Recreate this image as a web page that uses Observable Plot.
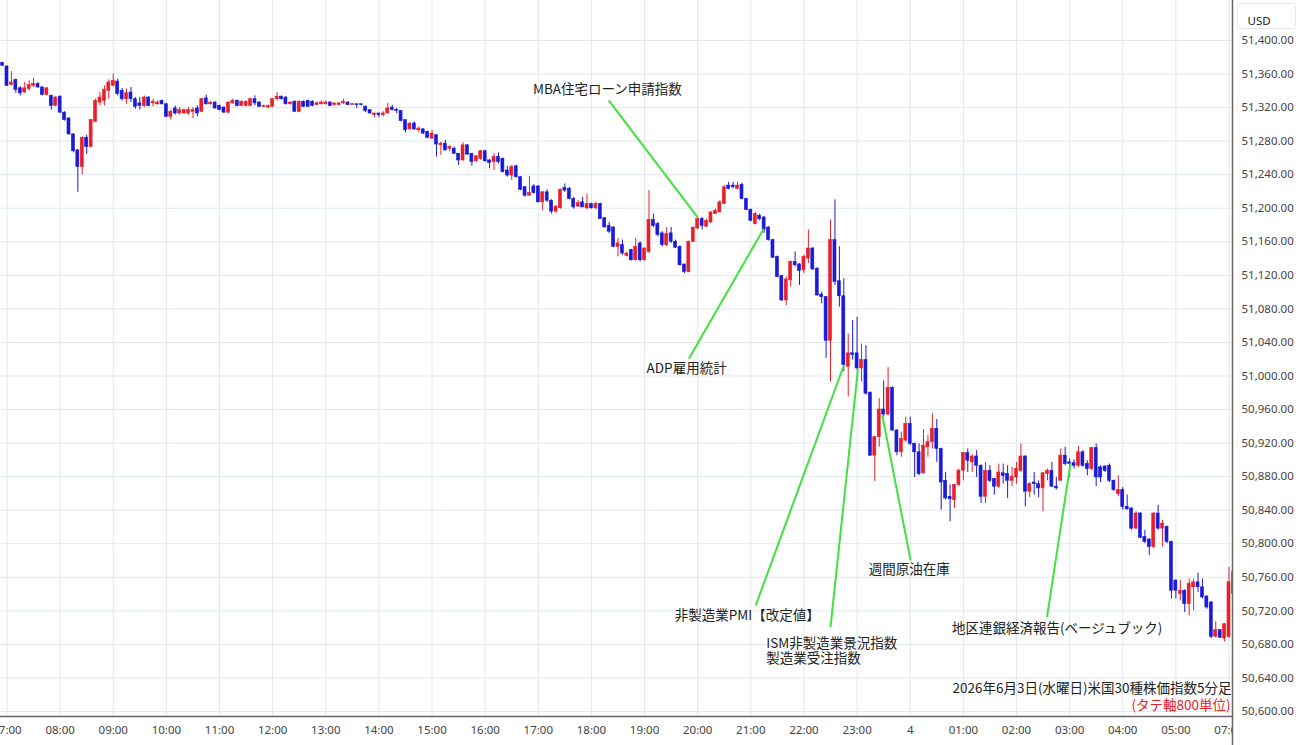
<!DOCTYPE html>
<html><head><meta charset="utf-8">
<script src="https://cdn.jsdelivr.net/npm/d3@7"></script>
<script src="https://cdn.jsdelivr.net/npm/@observablehq/plot@0.6"></script>
<style>
html,body{margin:0;padding:0;background:#fff;overflow:hidden;}
#chart svg{display:block;}
</style>
</head><body><div id="chart"></div>
<script>
// ---- data: 5-minute bars, index 0 = 07:00 (index -1 is the bar before) ----
const firstIndex = -1;
const open = [51373,51369,51347,51353,51343,51338,51342,51346,51348,51344,51335,51334,51322,51333,51314,51307,51288,51269,51249,51284,51273,51303,51326,51328,51340,51346,51351,51340,51330,51338,51330,51325,51322,51332,51325,51324,51328,51324,51309,51319,51313,51313,51313,51315,51319,51315,51331,51324,51326,51322,51320,51314,51325,51328,51322,51322,51322,51330,51326,51321,51320,51321,51330,51333,51332,51324,51327,51315,51327,51328,51327,51323,51324,51324,51326,
51323,51323,51325,51326,51323,51324,51324,51321,51317,51311,51313,51311,51313,51320,51317,51316,51305,51294,51301,51293,51294,51291,51283,51287,51275,51277,51271,51271,51265,51257,51275,51265,51256,51259,51268,51257,51255,51261,51259,51245,51239,51250,51237,51225,51215,51226,51226,51207,51219,51209,51196,51200,51224,51223,51211,51202,51207,51200,51205,51200,51205,51188,51179,51177,51154,51156,51143,51150,51138,51158,51138,
51148,51186,51181,51170,51156,51170,51160,51154,51133,51124,51160,51176,51187,51178,51183,51193,51195,51205,51227,51227,51223,51228,51211,51198,51181,51191,51189,51177,51162,51142,
51119,51090,51114,51136,51133,51126,51140,51152,51128,51097,51094,51042,51162,51113,51095,51011,51027,51027,51009,51019,50980,50905,50927,50960,50954,50986,50935,50909,50923,50943,50919,50909,
50884,50915,50921,50937,50913,50875,50856,50852,50870,50887,50908,50897,50904,50893,50856,50887,50877,50868,50884,50883,50875,50879,50887,50904,50862,50873,50871,50866,50883,50887,50868,50875,50905,50897,50896,50893,50909,50895,50889,50914,50891,50892,50893,50875,50859,50864,50844,
50842,50818,50836,50808,50805,50796,50836,50818,50820,50802,50756,50740,50744,50728,50748,50754,50748,50737,50730,50689,50697,50687,50689,50740];
const high = [51374,51370,51363,51354,51345,51350,51352,51355,51350,51345,51344,51335,51333,51334,51315,51308,51289,51270,51285,51287,51306,51330,51338,51346,51353,51360,51354,51343,51342,51344,51332,51332,51334,51333,51330,51328,51329,51325,51317,51322,51320,51318,51320,51320,51322,51331,51335,51327,51327,51323,51321,51327,51330,51329,51328,51328,51331,51334,51327,51323,51323,51331,51338,51334,51333,51327,51328,51328,51328,51329,51328,51327,51328,51328,51327,
51325,51326,51330,51327,51325,51324,51324,51322,51317,51313,51313,51315,51325,51323,51319,51316,51305,51302,51303,51297,51295,51292,51293,51288,51279,51281,51275,51273,51265,51278,51276,51265,51263,51269,51269,51258,51265,51266,51260,51250,51251,51251,51238,51226,51238,51228,51227,51220,51222,51210,51203,51223,51229,51225,51213,51209,51213,51217,51206,51207,51206,51189,51183,51178,51164,51162,51148,51151,51164,51160,51153,
51221,51193,51183,51172,51177,51177,51162,51155,51133,51161,51177,51189,51189,51187,51196,51199,51209,51227,51231,51231,51231,51230,51212,51199,51195,51193,51190,51178,51163,51143,
51120,51118,51137,51148,51134,51144,51174,51153,51129,51100,51095,51186,51210,51154,51116,51050,51066,51070,51038,51036,50981,50928,50973,50994,51010,50987,50936,50933,50951,50951,50920,50919,
50936,50929,50955,50948,50914,50885,50870,50871,50889,50909,50913,50906,50911,50894,50897,50893,50878,50895,50895,50893,50891,50897,50919,50905,50873,50885,50875,50885,50889,50897,50879,50913,50915,50901,50900,50916,50911,50899,50915,50919,50893,50893,50895,50876,50881,50867,50858,
50843,50838,50837,50816,50806,50837,50846,50828,50821,50803,50757,50756,50745,50758,50758,50765,50758,50738,50731,50707,50697,50705,50772,50768];
const low = [51369,51345,51346,51337,51334,51337,51340,51344,51343,51334,51334,51317,51321,51313,51304,51287,51266,51219,51240,51264,51272,51302,51322,51322,51330,51345,51334,51328,51324,51326,51318,51317,51320,51321,51321,51323,51323,51308,51305,51311,51311,51312,51311,51307,51309,51314,51323,51323,51318,51316,51313,51313,51324,51321,51321,51321,51321,51322,51320,51320,51319,51320,51328,51329,51323,51323,51314,51314,51320,51320,51321,51322,51323,51323,51321,
51322,51322,51324,51322,51323,51319,51322,51314,51312,51308,51308,51309,51312,51316,51313,51303,51290,51293,51293,51290,51288,51283,51282,51261,51263,51268,51267,51264,51251,51256,51263,51250,51255,51257,51255,51247,51245,51253,51242,51237,51233,51236,51221,51213,51214,51217,51207,51197,51207,51193,51194,51199,51219,51210,51199,51201,51201,51198,51199,51198,51187,51177,51170,51153,51142,51144,51142,51137,51137,51136,51137,
51146,51177,51166,51154,51154,51158,51152,51131,51122,51123,51159,51174,51174,51177,51182,51193,51195,51205,51222,51223,51222,51210,51197,51184,51180,51185,51170,51161,51140,51117,
51089,51084,51106,51130,51108,51122,51134,51126,51095,51086,51021,50993,51108,51082,51005,50975,51019,51007,50993,50977,50904,50874,50915,50951,50953,50934,50905,50903,50921,50917,50879,50881,
50883,50903,50913,50897,50840,50852,50826,50842,50868,50875,50885,50885,50879,50848,50848,50873,50858,50866,50871,50854,50868,50871,50885,50844,50855,50858,50855,50838,50875,50867,50864,50875,50893,50879,50889,50891,50891,50881,50887,50868,50873,50885,50873,50862,50856,50840,50840,
50816,50817,50806,50800,50786,50794,50816,50796,50800,50734,50734,50732,50718,50714,50720,50742,50734,50722,50687,50688,50687,50683,50687,50738];
const close = [51370,51346,51350,51341,51337,51343,51347,51348,51344,51335,51343,51322,51332,51314,51305,51288,51268,51249,51284,51273,51305,51328,51332,51341,51350,51352,51336,51330,51337,51330,51321,51322,51332,51322,51327,51326,51324,51309,51315,51313,51317,51317,51317,51317,51313,51330,51324,51326,51319,51317,51314,51326,51328,51322,51327,51327,51330,51325,51321,51322,51322,51330,51333,51330,51324,51326,51315,51327,51321,51321,51322,51325,51326,51326,51322,
51325,51325,51327,51323,51324,51323,51323,51316,51313,51313,51311,51313,51319,51317,51316,51304,51293,51301,51294,51295,51289,51284,51289,51276,51277,51269,51273,51265,51257,51275,51264,51255,51262,51268,51256,51254,51261,51255,51243,51239,51249,51237,51222,51215,51218,51218,51207,51219,51209,51196,51202,51222,51221,51211,51201,51206,51201,51205,51200,51205,51187,51177,51172,51154,51158,51146,51146,51138,51154,51138,51152,
51186,51179,51168,51156,51169,51160,51153,51132,51124,51160,51177,51187,51179,51185,51195,51197,51207,51225,51223,51225,51227,51211,51198,51185,51193,51187,51174,51162,51141,51118,
51090,51115,51136,51132,51125,51142,51152,51127,51096,51094,51042,51162,51112,51095,51013,51027,51025,51009,51019,50979,50905,50927,50960,50954,50986,50935,50909,50925,50943,50919,50909,50883,
50917,50921,50937,50913,50873,50854,50853,50870,50887,50908,50899,50904,50893,50856,50887,50875,50868,50885,50881,50875,50880,50889,50904,50862,50871,50871,50866,50884,50887,50868,50866,50905,50895,50895,50893,50909,50893,50889,50914,50879,50879,50887,50875,50864,50864,50844,50841,
50818,50836,50807,50802,50796,50836,50818,50824,50802,50744,50744,50744,50728,50752,50754,50748,50736,50724,50689,50697,50688,50704,50754,50766];

// ---- axis ticks ----
const priceTicks = d3.range(50600, 51401, 40);
const hourIndex = [0,12,24,36,48,60,72,84,96,108,120,132,144,156,168,180,192,204,216,228,240,252,264,276];
const hourLabels = ["07:00","08:00","09:00","10:00","11:00","12:00","13:00","14:00","15:00","16:00","17:00","18:00","19:00","20:00","21:00","22:00","23:00","4","01:00","02:00","03:00","04:00","05:00","07:00"];

// ---- event annotations ----
const eventNames = ["MBA住宅ローン申請指数","ADP雇用統計","非製造業PMI【改定値】","ISM非製造業景況指数\n製造業受注指数","週間原油在庫","地区連銀経済報告(ベージュブック)"];
const eventBar   = [156.0, 170.9, 189.0, 192.2, 197.7, 240.2];
const eventPrice = [51189, 51175.5, 51012.5, 51008.6, 50952.9, 50896.0];
const lineEndBar   = [135.9, 154.0, 169.1, 186.0, 204.1, 234.9];
const lineEndPrice = [51328.5, 51020.5, 50726.4, 50700.5, 50780.0, 50712.4];
const labelBar   = [135.6, 153.5, 167.2, 171.5, 203.8, 237.2];
const labelPrice = [51341.6, 51008.6, 50714.5, 50672.1, 50769.3, 50699.0];
const labelAnchor = ["middle","middle","middle","start","middle","middle"];

const captionLines = ["2026年6月3日(水曜日)米国30種株価指数5分足", "(タテ軸800単位)"];

const UP = "#e8202a", DOWN = "#1a1ad8", GREEN = "#3fe23f", GRID = "#e1e8f0";

const bars = open.map((o, i) => ({k: i + firstIndex, o, h: high[i], l: low[i], c: close[i], dir: close[i] >= o ? "up" : "down"}));
const events = eventNames.map((name, i) => ({name, x1: eventBar[i], y1: eventPrice[i], x2: lineEndBar[i], y2: lineEndPrice[i], lx: labelBar[i], ly: labelPrice[i], anchor: labelAnchor[i]}));

const CJK = "'Noto Sans CJK JP', 'Noto Sans', sans-serif";

const plot = Plot.plot({
  width: 1300,
  height: 745,
  marginTop: 0,
  marginBottom: 29,
  marginLeft: 0,
  marginRight: 68,
  style: {fontFamily: "'Noto Sans', 'Open Sans', sans-serif", background: "#fff", overflow: "hidden"},
  x: {domain: [-1.468, 276.79]},
  y: {domain: [50594, 51447.7]},
  color: {domain: ["up", "down"], range: [UP, DOWN]},
  marks: [
    Plot.gridY(priceTicks, {stroke: GRID, strokeOpacity: 1}),
    Plot.gridX(hourIndex, {stroke: GRID, strokeOpacity: 1}),
    Plot.ruleX(bars, {x: "k", y1: "l", y2: "h", stroke: "dir", strokeWidth: 1, clip: true}),
    Plot.rect(bars, {x1: d => d.k - 0.34, x2: d => d.k + 0.34, y1: d => Math.min(d.o, d.c), y2: d => Math.max(d.o, d.c), fill: "dir", stroke: "dir", strokeWidth: 0.6, clip: true}),
    Plot.link(events, {x1: "x1", y1: "y1", x2: "x2", y2: "y2", stroke: GREEN, strokeWidth: 2}),
    Plot.text(events.filter(e => e.anchor === "middle"), {x: "lx", y: "ly", text: "name", textAnchor: "middle", fontSize: 13.5, fill: "#222", fontFamily: CJK}),
    Plot.text(events.filter(e => e.anchor === "start"), {x: "lx", y: "ly", text: "name", textAnchor: "start", fontSize: 13.5, lineHeight: 1.12, fill: "#222", fontFamily: CJK}),
    Plot.text([captionLines[0]], {frameAnchor: "bottom-right", dx: -1, dy: -28, textAnchor: "end", lineAnchor: "middle", fontSize: 13.5, fill: "#222", fontFamily: CJK}),
    Plot.text([captionLines[1]], {frameAnchor: "bottom-right", dx: -2, dy: -11, textAnchor: "end", lineAnchor: "middle", fontSize: 13.5, fill: UP, fontFamily: CJK}),
    Plot.axisY(priceTicks, {anchor: "right", tickSize: 0, tickPadding: 9, tickFormat: d3.format(",.2f"), label: null, fontSize: 11.5, fill: "#444"}),
    Plot.axisX(hourIndex, {anchor: "bottom", tickSize: 0, tickPadding: 9, tickFormat: d => hourLabels[hourIndex.indexOf(d)], label: null, fontSize: 11.5, fill: "#444"}),
    Plot.frame({anchor: "bottom", stroke: "#666", strokeWidth: 1.5}),
    Plot.text(["USD"], {frameAnchor: "top-right", dx: 15, dy: 16, textAnchor: "start", fontSize: 11.5, fill: "#222"})
  ]
});

document.getElementById("chart").appendChild(plot);

// decoration: hide overflow of the last time label past the price axis, axis line, USD box
const svg = d3.select(plot);
svg.append("rect").attr("x", 1233).attr("y", 717).attr("width", 67).attr("height", 28).attr("fill", "#fff");
svg.append("line").attr("x1", 1232.5).attr("x2", 1232.5).attr("y1", 0).attr("y2", 745).attr("stroke", "#666").attr("stroke-width", 1.5);
svg.append("rect").attr("x", 1237.5).attr("y", 3.5).attr("width", 58).attr("height", 25).attr("rx", 3).attr("fill", "none").attr("stroke", "#e6e6e6");
</script>
</body></html>
